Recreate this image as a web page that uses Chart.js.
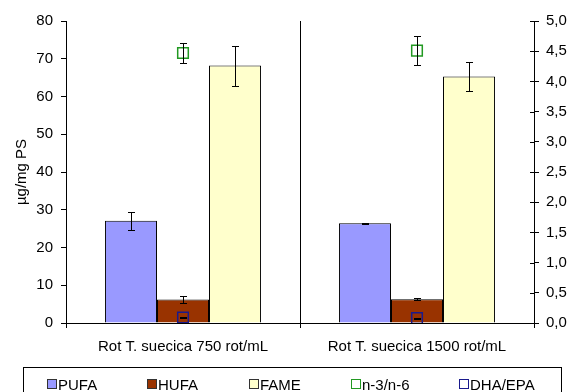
<!DOCTYPE html>
<html>
<head>
<meta charset="utf-8">
<script src="https://cdn.jsdelivr.net/npm/chart.js@4"></script>
<style>
  html, body { margin: 0; padding: 0; background: #fff; }
  #wrap { position: relative; width: 572px; height: 392px; overflow: hidden; }
  #chart { position: absolute; left: 0; top: 0; }
  #legend {
    position: absolute; left: 23px; top: 367px; width: 539px; height: 40px;
    border: 1px solid #000; box-sizing: border-box;
    font-family: "Liberation Sans", Arial, sans-serif; font-size: 15px; color: #000;
  }
  .item { position: absolute; top: 11px; height: 11px; white-space: nowrap; line-height: 11px; }
  .swatch { position: absolute; left: 0; top: 0; width: 10px; height: 10px; box-sizing: border-box; border: 1px solid #333; }
  .label { position: absolute; left: 11px; top: 0; }
</style>
</head>
<body>
<div id="wrap">
  <canvas id="chart" width="572" height="392"></canvas>
  <div id="legend"></div>
</div>
<script>
const categories = ["Rot T. suecica 750 rot/mL", "Rot T. suecica 1500 rot/mL"];

const pufa = [27.1, 26.4];
const pufaErr = [2.4, 0.2];
const hufa = [6.2, 6.3];
const hufaErr = [0.9, 0.2];
const fame = [68.2, 65.3];
const fameErr = [5.3, 3.8];

const n3n6 = [4.47, 4.51];
const n3n6Err = [0.16, 0.24];
const dhaEpa = [0.09, 0.08];
const dhaEpaErr = [0.01, 0.01];

const leftTicks = [0, 10, 20, 30, 40, 50, 60, 70, 80];
const rightTicks = [0, 0.5, 1, 1.5, 2, 2.5, 3, 3.5, 4, 4.5, 5];

const FONT = { family: "'Liberation Sans', Arial, sans-serif", size: 15 };

const errorBars = {
  id: "errorBars",
  afterDatasetsDraw(chart) {
    const ctx = chart.ctx;
    ctx.save();
    ctx.strokeStyle = "#000";
    ctx.lineWidth = 1;
    chart.data.datasets.forEach((ds, di) => {
      if (!ds.errors) return;
      const meta = chart.getDatasetMeta(di);
      const scale = chart.scales[ds.yAxisID];
      meta.data.forEach((el, i) => {
        const v = ds.data[i], e = ds.errors[i];
        const x = Math.round(el.x) + 0.5;
        const yTop = Math.round(scale.getPixelForValue(v + e)) + 0.5;
        const yBot = Math.round(scale.getPixelForValue(v - e)) + 0.5;
        ctx.beginPath();
        ctx.moveTo(x, yTop); ctx.lineTo(x, yBot);
        ctx.moveTo(x - 3.5, yTop); ctx.lineTo(x + 3.5, yTop);
        ctx.moveTo(x - 3.5, yBot); ctx.lineTo(x + 3.5, yBot);
        ctx.stroke();
      });
    });
    ctx.restore();
  },
  afterDraw(chart) {
    // inner half of the right axis tick marks
    const s = chart.scales.y1;
    const ctx = chart.ctx;
    ctx.save();
    ctx.strokeStyle = "#000";
    ctx.lineWidth = 1;
    s.ticks.forEach(t => {
      const y = Math.round(s.getPixelForValue(t.value)) + 0.5;
      ctx.beginPath();
      ctx.moveTo(s.left - 4, y); ctx.lineTo(s.left, y);
      ctx.stroke();
    });
    ctx.restore();
  }
};

const datasets = [
  { type: "bar", label: "PUFA", data: pufa, errors: pufaErr, yAxisID: "y",
    backgroundColor: "#9999FF", borderColor: "#000", borderWidth: 1, order: 2 },
  { type: "bar", label: "HUFA", data: hufa, errors: hufaErr, yAxisID: "y",
    backgroundColor: "#993300", borderColor: "#000", borderWidth: 1, order: 2 },
  { type: "bar", label: "FAME", data: fame, errors: fameErr, yAxisID: "y",
    backgroundColor: "#FFFFCC", borderColor: "#000", borderWidth: 1, order: 2 },
  { type: "line", label: "n-3/n-6", data: n3n6, errors: n3n6Err, yAxisID: "y1",
    showLine: false, pointStyle: "rect", pointRadius: 7.5, pointBorderWidth: 1.5,
    borderColor: "#229922", pointBorderColor: "#229922", pointBackgroundColor: "rgba(0,0,0,0)", order: 1 },
  { type: "line", label: "DHA/EPA", data: dhaEpa, errors: dhaEpaErr, yAxisID: "y1",
    showLine: false, pointStyle: "rect", pointRadius: 7.5, pointBorderWidth: 1.5,
    borderColor: "#1A1A8C", pointBorderColor: "#1A1A8C", pointBackgroundColor: "rgba(0,0,0,0)", order: 1 }
];

new Chart(document.getElementById("chart"), {
  data: { labels: categories, datasets },
  options: {
    responsive: false,
    animation: false,
    layout: { padding: { top: 21, left: 0, right: 0, bottom: 0 } },
    datasets: { bar: { categoryPercentage: 0.667, barPercentage: 1.0 } },
    plugins: { legend: { display: false }, tooltip: { enabled: false } },
    scales: {
      x: {
        offset: true,
        grid: { offset: true, color: "#000", lineWidth: 1, tickLength: 5, drawOnChartArea: true },
        border: { color: "#000" },
        ticks: { color: "#000", font: FONT, padding: 10, maxRotation: 0 },
        afterFit(s) { s.height = 69; }
      },
      y: {
        position: "left",
        min: 0, max: 80,
        afterBuildTicks(s) { s.ticks = leftTicks.map(v => ({ value: v })); },
        grid: { drawOnChartArea: false, color: "#000", tickLength: 5 },
        border: { color: "#000" },
        ticks: { color: "#000", font: FONT, padding: 8 },
        title: { display: true, text: "µg/mg PS", color: "#000", font: FONT, padding: { top: 13, bottom: 4 } },
        afterFit(s) { s.width = 66; }
      },
      y1: {
        position: "right",
        min: 0, max: 5,
        afterBuildTicks(s) { s.ticks = rightTicks.map(v => ({ value: v })); },
        grid: { drawOnChartArea: false, color: "#000", tickLength: 5 },
        border: { color: "#000" },
        ticks: { color: "#000", font: FONT, padding: 7,
          callback: v => Number(v).toFixed(1).replace(".", ",") },
        afterFit(s) { s.width = 38; }
      }
    }
  },
  plugins: [errorBars]
});

// legend built from the datasets
const legendLeft = [23, 123, 225, 327, 435];
const legend = document.getElementById("legend");
datasets.forEach((ds, i) => {
  const item = document.createElement("div");
  item.className = "item";
  item.style.left = legendLeft[i] + "px";
  const sw = document.createElement("span");
  sw.className = "swatch";
  if (ds.type === "bar") {
    sw.style.background = ds.backgroundColor;
  } else {
    sw.style.borderColor = ds.pointBorderColor;
  }
  const lb = document.createElement("span");
  lb.className = "label";
  lb.textContent = ds.label;
  item.appendChild(sw);
  item.appendChild(lb);
  legend.appendChild(item);
});
</script>
</body>
</html>
